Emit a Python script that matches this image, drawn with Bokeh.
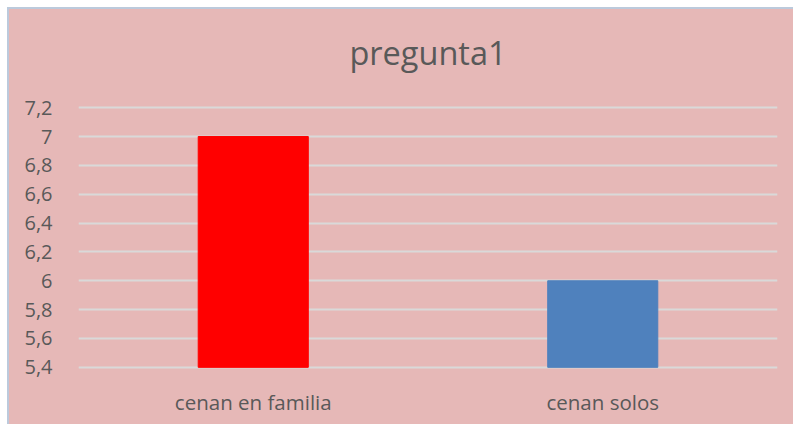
from bokeh.plotting import figure
from bokeh.models import FixedTicker, CustomJSTickFormatter, ColumnDataSource, Range1d, Title
from bokeh.embed import file_html
from bokeh.resources import INLINE

title_text = "pregunta1"
categories = ["cenan en familia", "cenan solos"]
values = [7, 6]
colors = ["#FF0000", "#4F81BD"]
y_ticks = [5.4, 5.6, 5.8, 6.0, 6.2, 6.4, 6.6, 6.8, 7.0, 7.2]
y_min, y_max = 5.4, 7.2
pad = 0.015  # keeps the edge gridlines fully visible

src = ColumnDataSource(dict(cat=categories, val=values, color=colors))

BG = "#E6B8B7"
p = figure(x_range=categories, y_range=Range1d(y_min - pad, y_max + pad),
           width=786, height=417, output_backend="svg", toolbar_location=None,
           min_border_left=69, min_border_right=18, min_border_top=0, min_border_bottom=57,
           background_fill_color=None, border_fill_color=None)
p.styles = {"margin-left": "7px", "margin-top": "7px", "background-color": BG,
            "border-top": "2px solid #BCCADC", "border-left": "2px solid #BCCADC"}
p.outline_line_color = None

p.vbar(x="cat", top="val", bottom=y_min, width=0.315, color="color", source=src)

# spacer between title and plot area
p.add_layout(Title(text=" ", text_font_size="2px", standoff=7), "above")

p.title.text = title_text
p.title.align = "center"
p.title.vertical_align = "middle"
p.title.text_font = "Open Sans"
p.title.text_font_size = "32.5px"
p.title.text_font_style = "normal"
p.title.text_color = "#595959"
p.title.standoff = 38

p.yaxis.ticker = FixedTicker(ticks=y_ticks)
p.yaxis.formatter = CustomJSTickFormatter(code="return (Math.round(tick*10)/10).toString().replace('.', ',');")
for ax in (p.xaxis, p.yaxis):
    ax.axis_line_color = None
    ax.major_tick_line_color = None
    ax.minor_tick_line_color = None
    ax.major_label_text_font = "Open Sans"
    ax.major_label_text_font_size = "20px"
    ax.major_label_text_color = "#595959"
p.xaxis.major_label_text_font_size = "20.5px"
p.yaxis.major_label_standoff = 20
p.xaxis.major_label_standoff = 12

p.xgrid.grid_line_color = None
p.ygrid.grid_line_color = "#D9D9D9"
p.ygrid.grid_line_width = 2

open("out.html", "w").write(file_html(p, INLINE))
